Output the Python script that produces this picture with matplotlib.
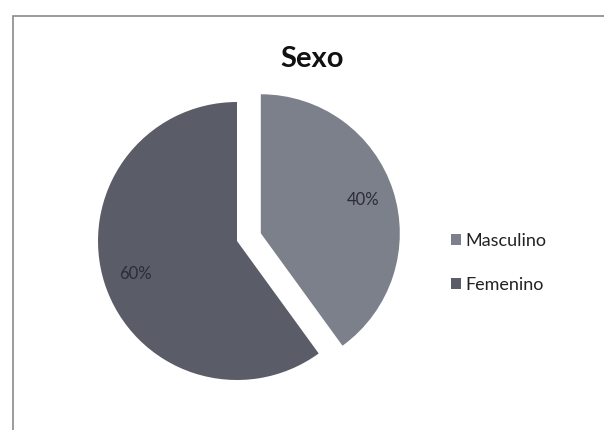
import matplotlib
matplotlib.use("Agg")
import matplotlib.pyplot as plt
from matplotlib.patches import Rectangle

categorias = ['Masculino', 'Femenino']
valores = [40, 60]
colores = ['#7c808b', '#5a5d68']
titulo = 'Sexo'

plt.rcParams['font.family'] = ['Lato', 'DejaVu Sans']

fig = plt.figure(figsize=(6.04, 4.30), dpi=100)
fig.patch.set_facecolor('white')

# marco del gráfico
fig.patches.append(Rectangle((13 / 604, -0.01), 1.0, (430 - 16) / 430 + 0.01,
                             transform=fig.transFigure, fill=False,
                             edgecolor='#8a8a8a', linewidth=1.2))

# 1 unidad = 139 px, centro en (237, 241) px
r = 139
lim = 1.3
ax = fig.add_axes([(237 - r * lim) / 604, (189 - r * lim) / 430,
                   2 * r * lim / 604, 2 * r * lim / 430])
wedges, texts, autotexts = ax.pie(
    valores, colors=colores, startangle=90, counterclock=False,
    explode=[0.18, 0], autopct='%1.0f%%', pctdistance=0.77,
    wedgeprops=dict(linewidth=0),
    textprops=dict(color='#2b2c36', fontsize=12))
ax.set_xlim(-lim, lim)
ax.set_ylim(-lim, lim)
ax.set_aspect('auto')

fig.text(312 / 604, 1 - 59 / 430, titulo, ha='center', va='center',
         fontsize=21, fontweight='bold', color='#111111')

leg = fig.legend(wedges, categorias, loc='center left',
                 bbox_to_anchor=(435 / 604, 1 - 263 / 430), frameon=False,
                 fontsize=13, handlelength=0.55, handleheight=0.55,
                 handletextpad=0.25, labelspacing=1.55)
for t in leg.get_texts():
    t.set_color('#222222')

fig.savefig('out.png', dpi=100, facecolor='white')
